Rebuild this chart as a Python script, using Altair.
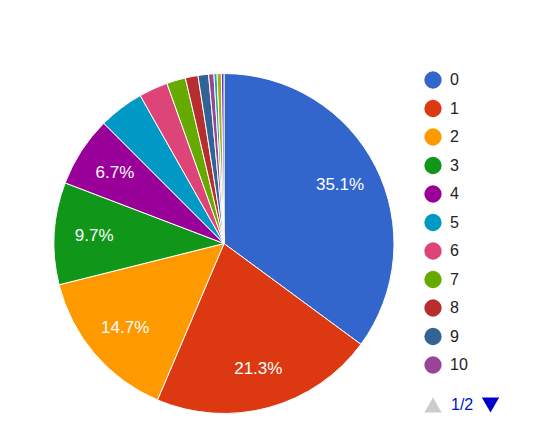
import altair as alt
import pandas as pd

categories = ["0", "1", "2", "3", "4", "5", "6", "7", "8", "9", "10", "11", "12", "13"]
shares = [35.1, 21.3, 14.7, 9.7, 6.7, 4.3, 2.75, 1.8, 1.2, 1.0, 0.5, 0.3, 0.4, 0.25]
colors = ["#3366cc", "#dc3912", "#ff9900", "#109618", "#990099", "#0099c6",
          "#dd4477", "#66aa00", "#b82e2e", "#316395", "#994499", "#22aa99",
          "#aaaa11", "#6633cc"]
legend_first_page = categories[:11]
page_text = ["1/2"]

df = pd.DataFrame({"cat": categories, "share": shares, "idx": list(range(len(categories)))})

FONT = "Arial, Liberation Sans, sans-serif"
CX, CY = 216, 235.5

base = alt.Chart(df).encode(
    theta=alt.Theta("share:Q", stack=True),
    order=alt.Order("idx:Q"),
    x=alt.value(CX),
    y=alt.value(CY),
)

arcs = base.mark_arc(outerRadius=170, stroke="white", strokeWidth=1).encode(
    color=alt.Color(
        "cat:N",
        sort=categories,
        scale=alt.Scale(domain=categories, range=colors),
        legend=alt.Legend(
            values=legend_first_page,
            title=None,
            orient="none",
            legendX=416,
            legendY=63,
            symbolType="circle",
            symbolSize=300,
            symbolStrokeWidth=0,
            labelFontSize=16,
            labelFont=FONT,
            labelColor="#222222",
            labelOffset=8,
            rowPadding=10.5,
            padding=0,
        ),
    )
)

labels = base.transform_joinaggregate(total="sum(share)").transform_calculate(
    label="datum.share >= 5 ? format(datum.share / datum.total, '.1%') : ''"
).mark_text(radius=130, fontSize=17, font=FONT, color="white").encode(
    text="label:N"
)

nav_df = pd.DataFrame({"t": page_text})
nav_up = alt.Chart(nav_df).mark_point(shape="triangle-up", filled=True, size=300, color="#cccccc", opacity=1).encode(
    x=alt.value(425), y=alt.value(397)
)
nav_txt = alt.Chart(nav_df).mark_text(align="left", baseline="middle", fontSize=16, font=FONT, color="#0011cc").encode(
    x=alt.value(443), y=alt.value(397), text="t:N"
)
nav_down = alt.Chart(nav_df).mark_point(shape="triangle-down", filled=True, size=300, color="#0000cc", opacity=1).encode(
    x=alt.value(482.5), y=alt.value(397)
)

chart = alt.layer(arcs, labels, nav_up, nav_txt, nav_down).properties(
    width=517, height=420, padding=0, autosize=alt.AutoSizeParams(type="none")
).configure_view(stroke=None)

chart.save("out.html", embed_options={"renderer": "svg", "actions": False})
